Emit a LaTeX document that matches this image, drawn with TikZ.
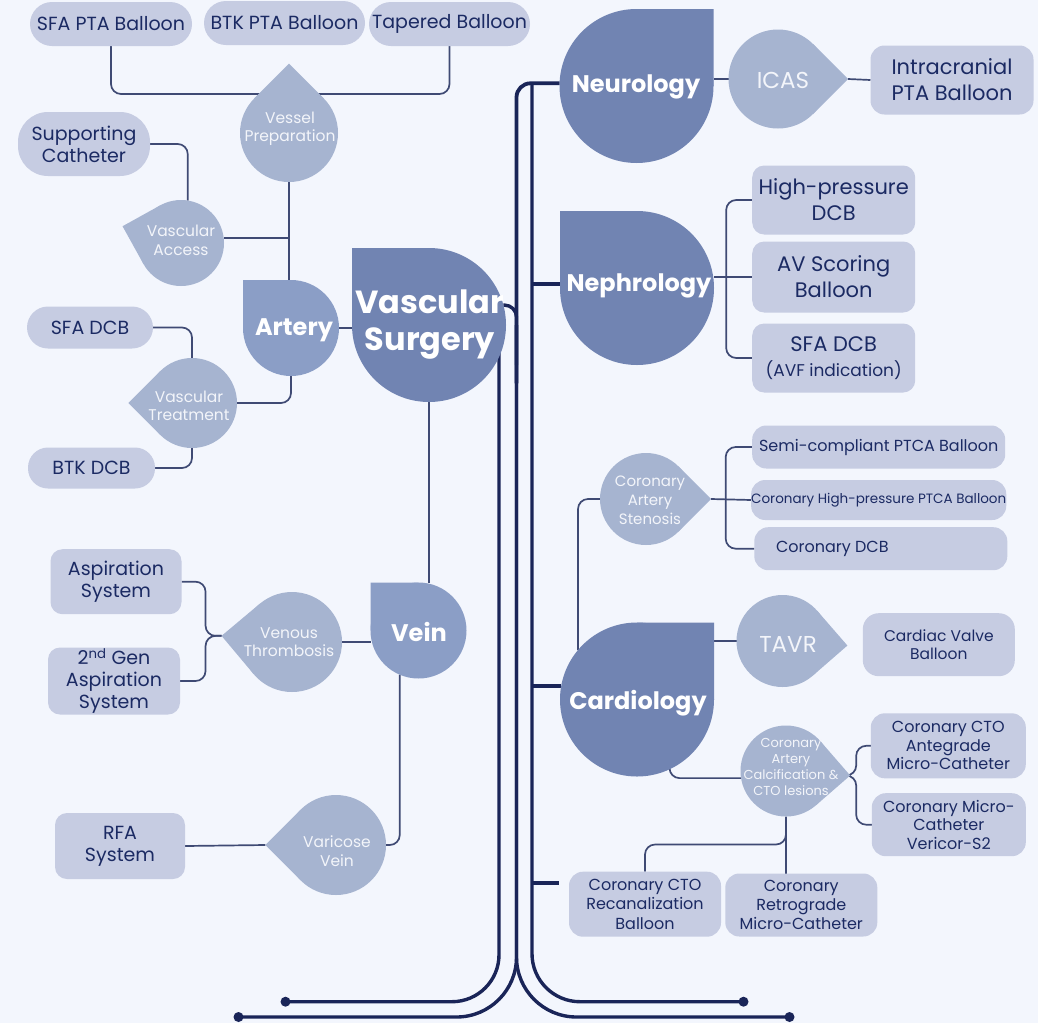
\documentclass[tikz,border=0pt]{standalone}
\usepackage{fontspec}
\setmainfont{Poppins}
\usetikzlibrary{calc}
\pgfdeclarelayer{bgl}\pgfdeclarelayer{lines}\pgfdeclarelayer{tips}
\pgfsetlayers{bgl,lines,tips,main}
\definecolor{bgc}{HTML}{F3F6FD}
\definecolor{cbig}{HTML}{7184B2}
\definecolor{cmid}{HTML}{8B9EC6}
\definecolor{cdrop}{HTML}{A6B4D0}
\definecolor{boxc}{HTML}{C6CCE2}
\definecolor{boxtext}{HTML}{1B2A63}
\definecolor{linec}{HTML}{3F4A74}
\definecolor{trunkc}{HTML}{1A2558}
\definecolor{droptext}{HTML}{F3F5FA}
\newcommand\fs[2]{\fontsize{#1}{#2}\selectfont}
\newcommand\dropnode[6]{%
  \node[circle, fill=#6, minimum size={2*#4pt}, inner sep=0pt, outer sep=0pt] (#1) at (#2,#3) {};
  \pgfmathtruncatemacro\dpa{mod(#5+45+360,360)}%
  \pgfmathtruncatemacro\dpb{mod(#5-45+360,360)}%
  \begin{pgfonlayer}{tips}
  \fill[#6] (#1.center) -- (#1.\dpa) -- ($(#1.center)!1.41421!(#1.#5)$) coordinate (#1-tip) -- (#1.\dpb) -- cycle;
  \end{pgfonlayer}}
\tikzset{
  box/.style={fill=boxc, text=boxtext, align=center, inner sep=0pt, outer sep=0pt},
  bigtext/.style={text=white, align=center, font=\bfseries\fs{24}{28}, inner sep=0pt},
  droptxt/.style={text=droptext, align=center, font=\fs{15.5}{18.5}, inner sep=0pt},
  conn/.style={draw=linec, line width=1.7pt, rounded corners=10pt},
  trunk/.style={draw=trunkc, line width=3.4pt},
  branch/.style={draw=trunkc, line width=4pt},
}
\begin{document}
\begin{tikzpicture}[x=1pt, y=-1pt]
\useasboundingbox (0,0) rectangle (1038,1023);
\begin{pgfonlayer}{bgl}
\fill[bgc] (0,0) rectangle (1038,1023);
\end{pgfonlayer}

% ---- main teardrop nodes
\dropnode{vs}{429}{325}{77}{135}{cbig}
\dropnode{neuro}{636.5}{86}{77}{45}{cbig}
\dropnode{nephro}{637}{288}{77}{135}{cbig}
\dropnode{cardio}{637}{699.5}{77}{45}{cbig}
\dropnode{artery}{291}{328}{48}{135}{cmid}
\dropnode{vein}{418.5}{630.5}{48}{135}{cmid}
\dropnode{vp}{289}{133}{49}{90}{cdrop}
\dropnode{va}{181}{243}{43}{164}{cdrop}
\dropnode{vt}{192}{403}{45}{180}{cdrop}
\dropnode{vth}{292}{642}{50}{175}{cdrop}
\dropnode{vv}{336}{845}{50}{180}{cdrop}
\dropnode{icas}{778}{79}{49.5}{0}{cdrop}
\dropnode{cas}{646}{499}{46}{0}{cdrop}
\dropnode{tavr}{782.5}{641}{46}{356}{cdrop}
\dropnode{calc}{786}{771}{45.5}{356}{cdrop}

% ---- texts of teardrops
\node[bigtext, font=\bfseries\fs{32}{37}] (vs-t) at (430,325) {Vascular\\Surgery};
\node[bigtext] (neuro-t) at (636,87) {Neurology};
\node[bigtext] (nephro-t) at (639,286) {Nephrology};
\node[bigtext] (cardio-t) at (638,703) {Cardiology};
\node[bigtext] (artery-t) at (294,330) {Artery};
\node[bigtext] (vein-t) at (419,632) {Vein};
\node[droptxt] (vp-t) at (290,129) {Vessel\\Preparation};
\node[droptxt] (va-t) at (181,240.5) {Vascular\\Access};
\node[droptxt] (vt-t) at (189,406) {Vascular\\Treatment};
\node[droptxt] (vth-t) at (289,642) {Venous\\Thrombosis};
\node[droptxt] (vv-t) at (337,851) {Varicose\\Vein};
\node[droptxt, font=\fs{23}{26}] (icas-t) at (783,80) {ICAS};
\node[droptxt, font=\fs{15}{19}] (cas-t) at (650,500) {Coronary\\Artery\\Stenosis};
\node[droptxt, font=\fs{23}{26}] (tavr-t) at (788,644) {TAVR};
\node[droptxt, font=\fs{13}{16}] (calc-t) at (791,767) {Coronary\\Artery\\Calcification \&\\CTO lesions};

% ---- boxes
\node[box, minimum width=162pt, minimum height=44pt, rounded corners=22pt, font=\fs{19}{22}] (sfapta) at (111,24) {SFA PTA Balloon};
\node[box, minimum width=161pt, minimum height=44pt, rounded corners=22pt, font=\fs{19}{22}] (btkpta) at (284.5,23) {BTK PTA Balloon};
\node[box, minimum width=161pt, minimum height=44pt, rounded corners=22pt, font=\fs{19}{22}] (tap) at (449.5,24) {Tapered Balloon};
\node[box, minimum width=132pt, minimum height=64pt, rounded corners=30pt, font=\fs{19}{22}] (supcath) at (84,144) {Supporting\\Catheter};
\node[box, minimum width=126pt, minimum height=42pt, rounded corners=21pt, font=\fs{19}{22}] (sfadcb) at (90,327.5) {SFA DCB};
\node[box, minimum width=127pt, minimum height=41pt, rounded corners=20pt, font=\fs{19}{22}] (btkdcb) at (91.5,468) {BTK DCB};
\node[box, minimum width=131pt, minimum height=65pt, rounded corners=12pt, font=\fs{19}{22}] (asp) at (116,581.7) {Aspiration\\System};
\node[box, minimum width=132pt, minimum height=67pt, rounded corners=12pt, font=\fs{19}{22}] (asp2) at (114,681) {2\textsuperscript{nd} Gen\\Aspiration\\System};
\node[box, minimum width=130pt, minimum height=66pt, rounded corners=12pt, font=\fs{19}{22}] (rfa) at (120,846) {RFA\\System};
\node[box, minimum width=163pt, minimum height=69pt, rounded corners=14pt, font=\fs{21}{26}] (intra) at (952,80) {Intracranial\\PTA Balloon};
\node[box, minimum width=163pt, minimum height=69pt, rounded corners=12pt, font=\fs{21}{26}] (hpdcb) at (833.7,200) {High-pressure\\DCB};
\node[box, minimum width=163pt, minimum height=71pt, rounded corners=12pt, font=\fs{21}{26}] (avs) at (833.7,277) {AV Scoring\\Balloon};
\node[box, minimum width=163pt, minimum height=69pt, rounded corners=12pt, font=\fs{21}{25}] (sfaavf) at (833.7,358) {SFA DCB\\{\fs{17}{20}(AVF indication)}};
\node[box, minimum width=253pt, minimum height=43pt, rounded corners=14pt, font=\fs{16}{19}] (semi) at (878.7,447) {Semi-compliant PTCA Balloon};
\node[box, minimum width=253pt, minimum height=40pt, rounded corners=14pt, font=\fs{13.5}{16}] (chp) at (878.7,500) {Coronary High-pressure PTCA Balloon};
\node[box, minimum width=253pt, minimum height=43pt, rounded corners=14pt, font=\fs{16}{19}] (cdcb) at (880.8,548.7) {Coronary DCB\hspace*{97pt}};
\node[box, minimum width=152pt, minimum height=63pt, rounded corners=16pt, font=\fs{15.5}{18.5}] (cvb) at (938.8,644.7) {Cardiac Valve\\Balloon};
\node[box, minimum width=155pt, minimum height=65pt, rounded corners=14pt, font=\fs{16}{18.5}] (ante) at (948.3,745.8) {Coronary CTO\\Antegrade\\Micro-Catheter};
\node[box, minimum width=154pt, minimum height=63pt, rounded corners=14pt, font=\fs{16}{18.5}] (vericor) at (948.8,824.7) {Coronary Micro-\\Catheter\\Vericor-S2};
\node[box, minimum width=152pt, minimum height=65pt, rounded corners=14pt, font=\fs{16}{19.5}] (recan) at (645,904.2) {Coronary CTO\\Recanalization\\Balloon};
\node[box, minimum width=152pt, minimum height=63pt, rounded corners=14pt, font=\fs{16}{19}] (retro) at (801.3,905) {Coronary\\Retrograde\\Micro-Catheter};

% ---- trunk coordinates
\coordinate (rx) at (532,83.3);
\coordinate (mx) at (516.5,83.3);
\coordinate (lx) at (499,330);
\coordinate (e1) at (285.5,1001.7);
\coordinate (e2) at (238.5,1017);
\coordinate (e3) at (743.5,1001.7);
\coordinate (e4) at (789.5,1017);

\begin{pgfonlayer}{lines}
% trunk
\draw[trunk, rounded corners=47pt] (lx) -- (lx |- e1) -- (e1);
\draw[trunk, rounded corners=60pt] (mx |- vs.center) -- (mx |- e2) -- (e2);
\draw[trunk, rounded corners=60pt] (mx |- vs.center) -- (mx |- e4) -- (e4);
\draw[trunk, rounded corners=48pt] (rx) -- (rx |- e3) -- (e3);
\draw[trunk, line width=3.8pt, rounded corners=14pt] (neuro.178) -- (mx) -- ++(0,300);
\draw[trunk, rounded corners=12pt] (vs.15) -- (vs.15 -| mx) -- ++(0,60);
\draw[branch] (nephro.west |- 0,284) -- (rx |- 0,284);
\draw[branch] (cardio.170) -- (cardio.170 -| rx);
\draw[branch] (rx |- 0,883.3) -- ++(27,0);
\fill[trunkc] (e1) circle (5pt) (e2) circle (5pt) (e3) circle (5pt) (e4) circle (5pt);
% connectors
\draw[conn] (sfapta.south) -- ++(0,48) -| (tap.south);
\draw[conn] (supcath.east) -| (va.81);
\draw[conn] (va.7) -- (va.7 -| vp.south);
\draw[conn] (vp.south) -- (vp.south |- artery.north);
\draw[conn] (sfadcb.east) -| (vt.north);
\draw[conn] (vt.south) |- (btkdcb.east);
\draw[conn] (artery.south) |- (vt.east);
\draw[conn] (artery.east) -- (artery.east -| vs.west);
\draw[conn] (vs.south) -- (vs.south |- vein.north);
\draw[conn] (vth.east) -- (vth.east -| vein.west);
\draw[conn] (vth-tip) -- ++(-16,0) |- (asp.east);
\draw[conn] (vth-tip) -- ++(-16,0) |- (asp2.east);
\draw[conn] (vein.247) |- (vv.east);
\draw[conn] (rfa.east) -- (vv-tip);
\draw[conn] (icas.west -| neuro.east) -- (icas.west);
\draw[conn] (icas-tip) -- (intra.west);
\draw[conn] (avs.west -| nephro.east) -- (avs.west);
\draw[conn] (hpdcb.west) -- ++(-26,0) |- (sfaavf.west);
\draw[conn] (cardio.140) |- (cas.west);
\draw[conn] (cas-tip) -- (chp.west);
\draw[conn] (semi.west) -- ++(-26.5,0) |- (cdcb.west);
\draw[conn] (tavr.west -| cardio.east) -- (tavr.west);
\draw[conn] (cardio.295) |- (calc.189);
\draw[conn] (calc-tip) -- ++(6,0) |- (ante.west);
\draw[conn] (calc-tip) -- ++(6,0) |- (vericor.west);
\draw[conn] (calc.south) -- (calc.south |- retro.north);
\draw[conn] (calc.south) -- ++(0,28) -| (recan.north);
\end{pgfonlayer}
\end{tikzpicture}
\end{document}
